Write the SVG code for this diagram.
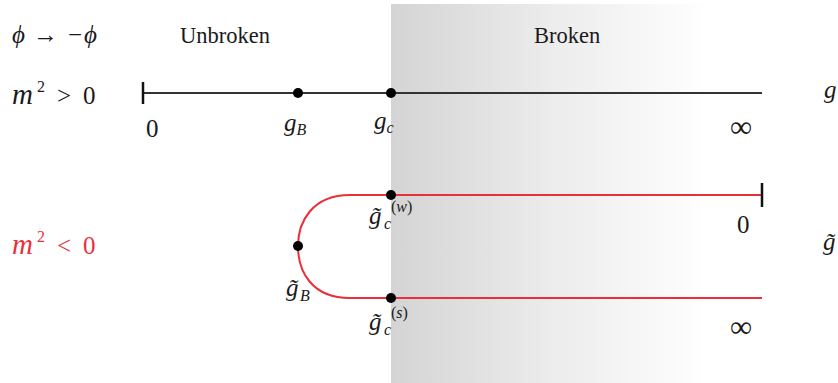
<svg xmlns="http://www.w3.org/2000/svg" width="838" height="383" viewBox="0 0 838 383">
<style>
text{font-family:"Liberation Serif","DejaVu Serif",serif;fill:#1a1a1a}
.m{font-style:italic}
.lbl{font-size:22.5px}
.math{font-size:25px}
.sub{font-size:16px}
.inf{font-size:31px}
.red{fill:#e8303a}
.bl{stroke:#333;stroke-width:2;fill:none}
.rl{stroke:#e8303a;stroke-width:2;fill:none}
.tk{stroke:#111;stroke-width:2.5}
</style>
<defs>
<linearGradient id="sh" x1="0" y1="0" x2="1" y2="0">
<stop offset="0" stop-color="#d4d4d4"/>
<stop offset="0.5" stop-color="#ececec"/>
<stop offset="1" stop-color="#ffffff"/>
</linearGradient>
</defs>
<rect x="0" y="0" width="838" height="383" fill="#fff"/>
<rect id="broken-region" x="391" y="4" width="320" height="379" fill="url(#sh)"/>
<g id="header">
<text y="43" class="math"><tspan x="12" class="m">ϕ</tspan><tspan x="33">→</tspan><tspan x="68">−</tspan><tspan x="84" class="m">ϕ</tspan></text>
<text x="180" y="43" class="lbl">Unbroken</text>
<text x="534" y="43" class="lbl">Broken</text>
</g>
<g id="connectors">
<line class="bl" x1="143" y1="93" x2="762" y2="93"/>
<line class="tk" x1="143" y1="82" x2="143" y2="104"/>
<path class="rl" d="M762,195 L350,195 C312,195 298,222 298,246 C298,272 312,298 350,298 L762,298"/>
<line class="tk" x1="762" y1="183" x2="762" y2="207"/>
</g>
<g id="row-positive">
<text y="104" class="math"><tspan x="12" class="m" font-size="29">m</tspan><tspan x="37" y="92" class="sub">2</tspan><tspan x="57" y="104">&gt;</tspan><tspan x="83">0</tspan></text>
<text x="146" y="137" class="math">0</text>
<text x="824" y="98" class="math m">g</text>
<text x="730" y="137" class="inf">∞</text>
</g>
<g id="node-gB">
<circle cx="298" cy="93" r="5" fill="#000"/>
<text x="284" y="131" class="math"><tspan class="m">g</tspan><tspan class="sub m" dy="4">B</tspan></text>
</g>
<g id="node-gc">
<circle cx="391" cy="93" r="5" fill="#000"/>
<text x="374" y="129" class="math"><tspan class="m">g</tspan><tspan class="sub m" dy="4">c</tspan></text>
</g>
<g id="row-negative">
<text y="254" class="math red"><tspan x="12" class="m" font-size="29">m</tspan><tspan x="37" y="242" class="sub">2</tspan><tspan x="57" y="254">&lt;</tspan><tspan x="83">0</tspan></text>
<text x="737" y="233" class="math">0</text>
<text x="730" y="337" class="inf">∞</text>
<text x="823" y="250" class="math m">g̃</text>
</g>
<g id="node-gcw">
<circle cx="391" cy="195" r="5" fill="#000"/>
<text x="369" y="224" class="math"><tspan class="m">g̃</tspan><tspan class="sub m" x="384" y="229">c</tspan><tspan class="sub" x="391" y="212">(<tspan class="m">w</tspan>)</tspan></text>
</g>
<g id="node-gtB">
<circle cx="298" cy="246" r="5" fill="#000"/>
<text x="286" y="296" class="math"><tspan class="m">g̃</tspan><tspan class="sub m" x="300" y="301">B</tspan></text>
</g>
<g id="node-gcs">
<circle cx="391" cy="298" r="5" fill="#000"/>
<text x="369" y="330" class="math"><tspan class="m">g̃</tspan><tspan class="sub m" x="384" y="335">c</tspan><tspan class="sub" x="391" y="318">(<tspan class="m">s</tspan>)</tspan></text>
</g>
</svg>
